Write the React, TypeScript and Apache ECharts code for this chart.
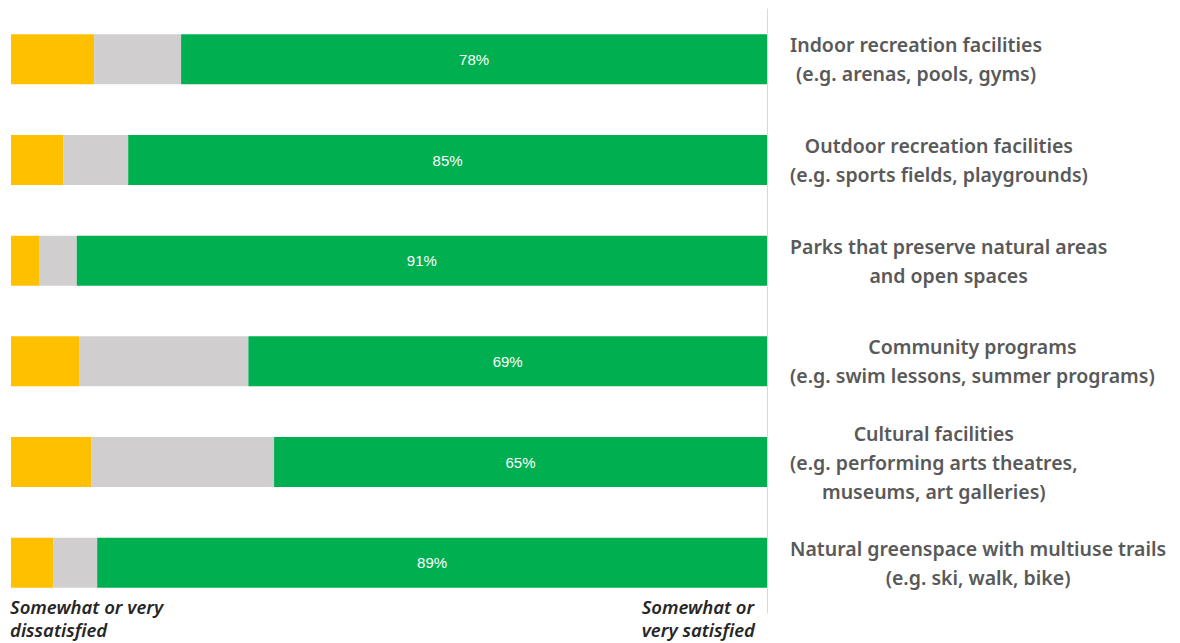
import React, { useEffect, useRef } from "react";
import * as echarts from "echarts";

const categories = [
  "Indoor recreation facilities\n(e.g. arenas, pools, gyms)",
  "Outdoor recreation facilities\n(e.g. sports fields, playgrounds)",
  "Parks that preserve natural areas\nand open spaces",
  "Community programs\n(e.g. swim lessons, summer programs)",
  "Cultural facilities\n(e.g. performing arts theatres,\nmuseums, art galleries)",
  "Natural greenspace with multiuse trails\n(e.g. ski, walk, bike)",
];
const dissatisfied = [11, 6.9, 3.8, 9, 10.6, 5.6];
const neutral = [11.5, 8.6, 4.9, 22.4, 24.2, 5.8];
const satisfied = [77.5, 84.5, 91.3, 68.6, 65.2, 88.6];

export default function App() {
  const ref = useRef<HTMLDivElement>(null);
  useEffect(() => {
    document.body.style.margin = "0";
    const chart = echarts.init(ref.current!, null, { renderer: "svg" });
    const labelFont = "'Noto Sans', sans-serif";
    chart.setOption({
      animation: false,
      backgroundColor: "#ffffff",
      grid: { left: 11, right: 413, top: 9, bottom: 30, containLabel: false },
      xAxis: {
        type: "value",
        min: 0,
        max: 100,
        show: false,
      },
      yAxis: {
        type: "category",
        data: categories,
        inverse: true,
        position: "right",
        axisLine: { show: true, onZero: false, lineStyle: { color: "#d9d9d9", width: 1 } },
        axisTick: { show: false },
        axisLabel: {
          margin: 23,
          align: "left",
          formatter: (v: string) =>
            v
              .split("\n")
              .map((l) => "{c|" + l + "}")
              .join("\n"),
          rich: {
            c: {
              align: "center",
              fontFamily: labelFont,
              fontWeight: 600,
              fontSize: 19.5,
              lineHeight: 29,
              color: "#595959",
            },
          },
        },
      },
      series: [
        {
          name: "Somewhat or very dissatisfied",
          type: "bar",
          stack: "s",
          barWidth: 50,
          data: dissatisfied,
          itemStyle: { color: "#FFC000" },
        },
        {
          name: "Neutral",
          type: "bar",
          stack: "s",
          barWidth: 50,
          data: neutral,
          itemStyle: { color: "#D0CECE" },
        },
        {
          name: "Somewhat or very satisfied",
          type: "bar",
          stack: "s",
          barWidth: 50,
          data: satisfied,
          itemStyle: { color: "#00B050" },
          label: {
            show: true,
            position: "inside",
            formatter: (p: any) => Math.round(p.value) + "%",
            color: "#ffffff",
            fontSize: 15,
            fontFamily: "'Liberation Sans', sans-serif",
          },
        },
      ],
      graphic: [
        {
          type: "text",
          left: 10,
          top: 595,
          style: {
            text: "Somewhat or very\ndissatisfied",
            fill: "#262626",
            font: "italic 600 18.5px 'Noto Sans', sans-serif",
            lineHeight: 23,
            align: "left",
          },
        },
        {
          type: "text",
          right: 1180 - 755,
          top: 595,
          style: {
            text: "Somewhat or\nvery satisfied",
            fill: "#262626",
            font: "italic 600 18.5px 'Noto Sans', sans-serif",
            lineHeight: 23,
            align: "right",
          },
        },
      ],
    });
    return () => chart.dispose();
  }, []);
  return (
    <div
      ref={ref}
      style={{ position: "absolute", left: 0, top: 0, width: 1180, height: 643 }}
    />
  );
}
